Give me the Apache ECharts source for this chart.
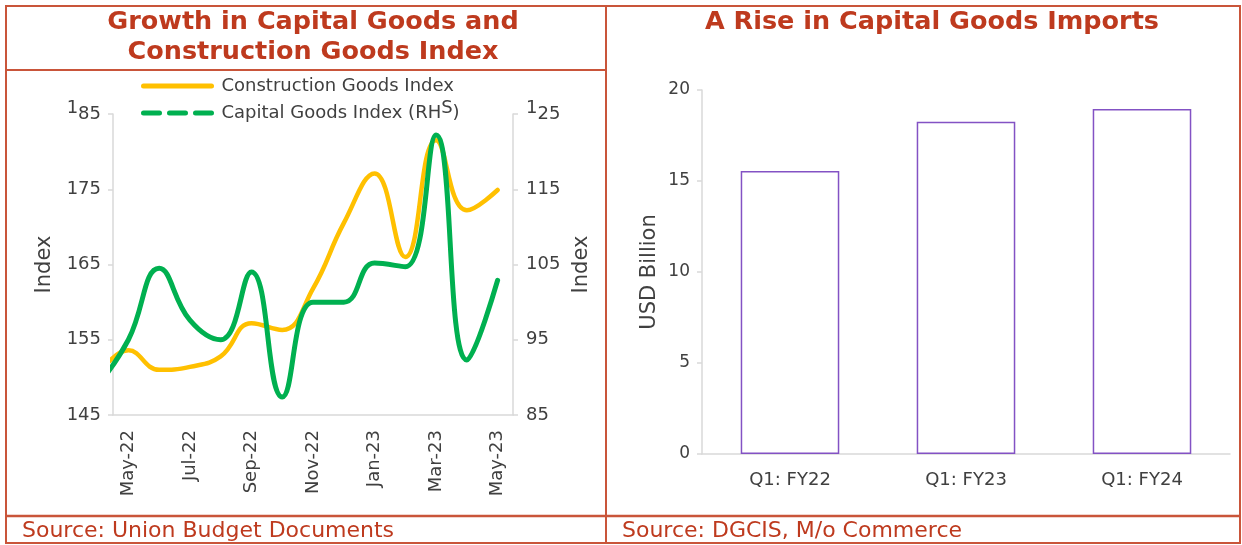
<!DOCTYPE html>
<html>
<head>
<meta charset="utf-8">
<script src="https://cdn.jsdelivr.net/npm/echarts@6/dist/echarts.min.js"></script>
<style>
html,body{margin:0;padding:0;background:#fff;}
#chart{width:1242px;height:545px;}
</style>
</head>
<body>
<div id="chart"></div>
<script>
// ---- data ----
// monthly readings; Apr-22 sits just left of the plotted window (line is clipped at the axis)
const dataMonths = ['Apr-22','May-22','Jun-22','Jul-22','Aug-22','Sep-22','Oct-22','Nov-22','Dec-22','Jan-23','Feb-23','Mar-23','Apr-23','May-23'];
const axisMonths = dataMonths.slice(1);
const constructionIndex = [150.2, 153.6, 151.0, 151.4, 152.8, 157.2, 156.3, 161.8, 170.5, 177.1, 166.0, 181.5, 172.2, 174.9];
const capitalIndex = [88.9, 95.0, 104.5, 97.6, 95.0, 104.0, 87.4, 100.0, 100.0, 105.2, 104.7, 122.2, 92.3, 102.9];
const quarters = ['Q1: FY22', 'Q1: FY23', 'Q1: FY24'];
const capitalImports = [15.55, 18.25, 18.95];
const leftTicks = [145, 155, 165, 175, 185];
const rightTicks = [85, 95, 105, 115, 125];
const barTicks = [0, 5, 10, 15, 20];

const FONT = '"DejaVu Sans", sans-serif';
const RED = '#BE3A1E';
const BORDER = '#C9553A';
const AXIS = '#D9D9D9';
const LABEL = '#404040';

function supFirst(v, top) {
  const s = String(v);
  if (v === top) return '{sup|' + s.charAt(0) + '}{n|' + s.slice(1) + '}';
  return '{n|' + s + '}';
}
const supRich = {
  sup: { fontFamily: FONT, fontSize: 18, color: LABEL, padding: [0, 0, 12, 0] },
  n: { fontFamily: FONT, fontSize: 18, color: LABEL }
};
// position of each month on the hidden numeric x axis (May-22 = 0)
const monthPos = dataMonths.map((m, i) => i - 1);

const chart = echarts.init(document.getElementById('chart'));
const option = {
  animation: false,
  backgroundColor: '#fff',
  textStyle: { fontFamily: FONT },
  legend: {
    orient: 'vertical',
    left: 136,
    top: 72,
    itemWidth: 78,
    itemHeight: 5,
    itemGap: 4,
    textStyle: { fontFamily: FONT, fontSize: 18, color: LABEL,
      rich: { sup: { fontFamily: FONT, fontSize: 18, color: LABEL, padding: [0, 0, 10, 0] }, n: { fontFamily: FONT, fontSize: 18, color: LABEL } } },
    formatter: function (name) {
      if (name.indexOf('(RHS)') >= 0) return '{n|Capital Goods Index (RH}{sup|S}{n|)}';
      return '{n|' + name + '}';
    },
    data: [
      { name: 'Construction Goods Index', icon: 'path://M2.5,0H70.5A2.5,2.5,0,0,1,70.5,5H2.5A2.5,2.5,0,0,1,2.5,0Z' },
      { name: 'Capital Goods Index (RHS)', icon: 'path://M2.5,0H18.5A2.5,2.5,0,0,1,18.5,5H2.5A2.5,2.5,0,0,1,2.5,0Z M28.5,0H44.5A2.5,2.5,0,0,1,44.5,5H28.5A2.5,2.5,0,0,1,28.5,0Z M54.5,0H70.5A2.5,2.5,0,0,1,70.5,5H54.5A2.5,2.5,0,0,1,54.5,0Z' }
    ]
  },
  grid: [
    { left: 113, top: 114, width: 400, height: 301 },
    { left: 702, top: 90, width: 528, height: 364 }
  ],
  xAxis: [
    {
      type: 'category', gridIndex: 0, data: axisMonths, boundaryGap: true,
      axisLine: { onZero: false, lineStyle: { color: AXIS, width: 1.5 } },
      axisTick: { interval: 1, length: 5, lineStyle: { color: AXIS, width: 1.5 } },
      axisLabel: { interval: 1, rotate: 90, margin: 15, fontFamily: FONT, fontSize: 18, color: LABEL }
    },
    {
      type: 'value', gridIndex: 0, min: -0.5, max: axisMonths.length - 0.5, show: false,
      axisLine: { onZero: false }
    },
    {
      type: 'category', gridIndex: 1, data: quarters,
      axisLine: { onZero: false, lineStyle: { color: AXIS, width: 1.5 } },
      axisTick: { show: false },
      axisLabel: { margin: 17, fontFamily: FONT, fontSize: 18, color: LABEL }
    }
  ],
  yAxis: [
    {
      type: 'value', gridIndex: 0, min: leftTicks[0], max: leftTicks[leftTicks.length - 1], interval: 10,
      name: 'Index', nameLocation: 'middle', nameGap: 58, nameRotate: 90,
      nameTextStyle: { fontFamily: FONT, fontSize: 21, color: LABEL },
      splitLine: { show: false },
      axisLine: { show: true, onZero: false, lineStyle: { color: AXIS, width: 1.5 } },
      axisTick: { show: true, length: 5, lineStyle: { color: AXIS, width: 1.5 } },
      axisLabel: { margin: 12, formatter: v => supFirst(v, 185), rich: supRich }
    },
    {
      type: 'value', gridIndex: 0, position: 'right', min: rightTicks[0], max: rightTicks[rightTicks.length - 1], interval: 10,
      name: 'Index', nameLocation: 'middle', nameGap: 58, nameRotate: 90,
      nameTextStyle: { fontFamily: FONT, fontSize: 21, color: LABEL },
      splitLine: { show: false },
      axisLine: { show: true, onZero: false, lineStyle: { color: AXIS, width: 1.5 } },
      axisTick: { show: true, length: 5, lineStyle: { color: AXIS, width: 1.5 } },
      axisLabel: { margin: 13, formatter: v => supFirst(v, 125), rich: supRich }
    },
    {
      type: 'value', gridIndex: 1, min: barTicks[0], max: barTicks[barTicks.length - 1], interval: 5,
      name: 'USD Billion', nameLocation: 'middle', nameGap: 42, nameRotate: 90,
      nameTextStyle: { fontFamily: FONT, fontSize: 21, color: LABEL },
      splitLine: { show: false },
      axisLine: { show: true, onZero: false, lineStyle: { color: AXIS, width: 1.5 } },
      axisTick: { show: true, length: 5, lineStyle: { color: AXIS, width: 1.5 } },
      axisLabel: { margin: 12, fontFamily: FONT, fontSize: 17, color: LABEL }
    }
  ],
  series: [
    {
      name: 'Construction Goods Index', type: 'line', xAxisIndex: 1, yAxisIndex: 0,
      data: constructionIndex.map((v, i) => [monthPos[i], v]),
      smooth: 0.45, symbol: 'none', z: 2, clip: true,
      lineStyle: { color: '#FFC000', width: 4.5, cap: 'round', join: 'round' },
      itemStyle: { color: '#FFC000' }
    },
    {
      name: 'Capital Goods Index (RHS)', type: 'line', xAxisIndex: 1, yAxisIndex: 1,
      data: capitalIndex.map((v, i) => [monthPos[i], v]),
      smooth: 0.45, symbol: 'none', z: 3, clip: true,
      lineStyle: { color: '#00B050', width: 5, cap: 'round', join: 'round' },
      itemStyle: { color: '#00B050' }
    },
    {
      name: 'Capital Goods Imports', type: 'bar', xAxisIndex: 2, yAxisIndex: 2,
      data: capitalImports, barWidth: '56%',
      itemStyle: { color: '#FFFFFF', borderColor: '#8352C4', borderWidth: 1.5 }
    }
  ],
  graphic: [
    { type: 'rect', z: 100, shape: { x: 6, y: 6, width: 1234, height: 537 }, style: { fill: 'none', stroke: BORDER, lineWidth: 2 } },
    { type: 'line', z: 100, shape: { x1: 606, y1: 6, x2: 606, y2: 543 }, style: { stroke: BORDER, lineWidth: 2 } },
    { type: 'line', z: 100, shape: { x1: 6, y1: 70, x2: 606, y2: 70 }, style: { stroke: BORDER, lineWidth: 2 } },
    { type: 'line', z: 100, shape: { x1: 6, y1: 516, x2: 1240, y2: 516 }, style: { stroke: BORDER, lineWidth: 2.5 } },
    { type: 'text', z: 100, x: 313, y: 22, style: { text: 'Growth in Capital Goods and', align: 'center', verticalAlign: 'middle', font: 'bold 25.5px "DejaVu Sans"', fill: RED } },
    { type: 'text', z: 100, x: 313, y: 52, style: { text: 'Construction Goods Index', align: 'center', verticalAlign: 'middle', font: 'bold 25.5px "DejaVu Sans"', fill: RED } },
    { type: 'text', z: 100, x: 932, y: 22, style: { text: 'A Rise in Capital Goods Imports', align: 'center', verticalAlign: 'middle', font: 'bold 25.5px "DejaVu Sans"', fill: RED } },
    { type: 'text', z: 100, x: 22, y: 531, style: { text: 'Source: Union Budget Documents', align: 'left', verticalAlign: 'middle', font: '22px "DejaVu Sans"', fill: RED } },
    { type: 'text', z: 100, x: 622, y: 531, style: { text: 'Source: DGCIS, M/o Commerce', align: 'left', verticalAlign: 'middle', font: '22px "DejaVu Sans"', fill: RED } }
  ]
};
chart.setOption(option);
</script>
</body>
</html>
